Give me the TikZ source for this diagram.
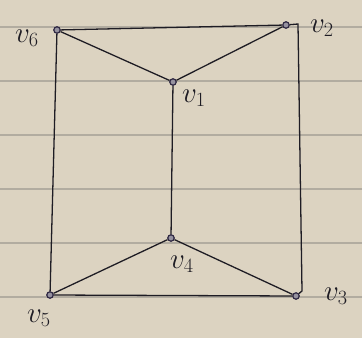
\documentclass[tikz,border=0pt]{standalone}
\definecolor{paper}{RGB}{220,211,193}
\definecolor{rule}{RGB}{178,172,160}
\definecolor{ink}{RGB}{30,28,36}
\definecolor{dotink}{RGB}{45,38,65}
\begin{document}
\begin{tikzpicture}[x=0.03cm,y=-0.03cm,
  vtx/.style={circle,draw=dotink,fill=dotink!50,line width=1pt,inner sep=0pt,minimum size=5.5pt},
  edge/.style={draw=ink,line width=1.1pt},
  lab/.style={text=ink,font=\fontsize{26}{26}\selectfont}]
\fill[paper] (0,0) rectangle (362,338);
\useasboundingbox (0,0) rectangle (362,338);
\foreach \y in {27,81,135,189,243,297}
  \draw[rule,line width=1pt] (0,\y) -- (362,\y);
\node[vtx] (v6) at (57,30) {};
\node[vtx] (v2) at (286,25) {};
\node[vtx] (v1) at (173,82) {};
\node[vtx] (v4) at (171,238) {};
\node[vtx] (v5) at (50,295) {};
\node[vtx] (v3) at (296,296) {};
\coordinate (c2) at (298,24);
\coordinate (c3) at (302,291);
\draw[edge] (v6) -- (v2);
\draw[edge] (v6) -- (v1);
\draw[edge] (v1) -- (v2);
\draw[edge] (v2) -- (c2) -- (c3) -- (v3);
\draw[edge] (v6) -- (v5);
\draw[edge] (v1) -- (v4);
\draw[edge] (v4) -- (v5);
\draw[edge] (v4) -- (v3);
\draw[edge] (v5) -- (v3);
\node[lab] (l6) at (27,38) {$v_6$};
\node[lab] (l2) at (322,28) {$v_2$};
\node[lab] (l1) at (194,98) {$v_1$};
\node[lab] (l4) at (182,264) {$v_4$};
\node[lab] (l5) at (39,318) {$v_5$};
\node[lab] (l3) at (336,296) {$v_3$};
\end{tikzpicture}
\end{document}
